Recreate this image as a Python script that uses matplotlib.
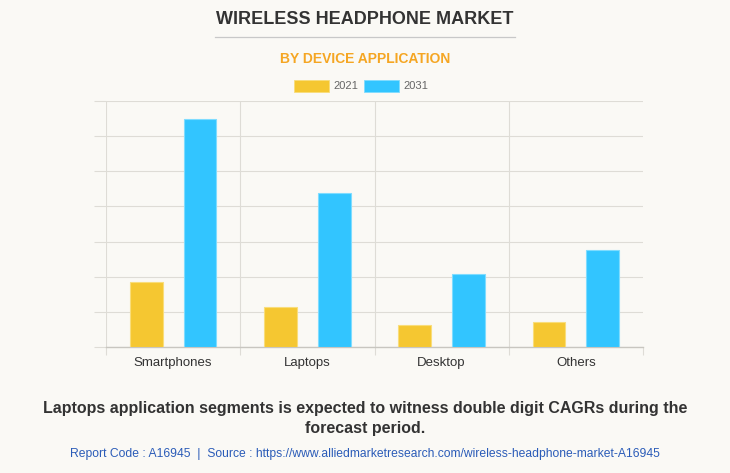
import numpy as np
import matplotlib.pyplot as plt
from matplotlib.patches import Rectangle
from matplotlib.lines import Line2D

plt.rcParams['font.family'] = ['Liberation Sans', 'DejaVu Sans']

# ── Data ─────────────────────────────────────────────────────────────────────
categories = ['Smartphones', 'Laptops', 'Desktop', 'Others']
series_labels = ['2021', '2031']
values_2021 = [1.86, 1.14, 0.62, 0.71]
values_2031 = [6.48, 4.38, 2.08, 2.76]

# ── Style ────────────────────────────────────────────────────────────────────
bg = '#faf9f5'
grid_c = '#dedcd6'
yellow = '#f5c731'
cyan = '#32c5ff'

fig = plt.figure(figsize=(7.3, 4.73), dpi=100, facecolor=bg)
W, H = 730, 473
ax = fig.add_axes([106 / W, (H - 347) / H, (643 - 106) / W, (347 - 101) / H])
ax.set_facecolor(bg)

x = np.arange(len(categories))
w = 0.245
off = 0.2
ax.bar(x - off, values_2021, w, color=yellow, edgecolor='#f9dd7a', linewidth=0.8, zorder=3)
ax.bar(x + off, values_2031, w, color=cyan, edgecolor='#7fdcff', linewidth=0.8, zorder=3)

ax.set_xlim(-0.5, len(categories) - 0.5)
ax.set_ylim(0, 7)
ax.set_yticks(np.arange(0, 8, 1))
ax.set_yticklabels([])
ax.tick_params(axis='y', length=9, color=grid_c, width=0.8)
ax.grid(axis='y', color=grid_c, linewidth=0.8, zorder=0)

ax.set_xticks(x)
ax.set_xticklabels(categories, fontsize=9.5, color='#333333')
ax.tick_params(axis='x', length=0, pad=7)
ax.set_xticks(np.arange(-0.5, len(categories), 1), minor=True)
ax.tick_params(axis='x', which='minor', length=6, color=grid_c, width=0.8)
for b in np.arange(-0.5, len(categories) - 0.5, 1):
    ax.axvline(b, color=grid_c, linewidth=0.8, zorder=0)

for s in ['top', 'right', 'left']:
    ax.spines[s].set_visible(False)
ax.spines['bottom'].set_color('#c8c6c0')
ax.spines['bottom'].set_linewidth(1.0)

# ── Titles ───────────────────────────────────────────────────────────────────
fig.text(0.5, 1 - 20 / H, 'WIRELESS HEADPHONE MARKET', ha='center', va='center',
         fontsize=13, fontweight='bold', color='#333333')
fig.add_artist(Line2D([215 / W, 515 / W], [1 - 37 / H, 1 - 37 / H],
                      color='#c8c8c8', linewidth=0.9))
fig.text(0.5, 1 - 59 / H, 'BY DEVICE APPLICATION', ha='center', va='center',
         fontsize=10, fontweight='bold', color='#f5a623')

# legend
for i, (lab, col, ec) in enumerate(zip(series_labels, [yellow, cyan], ['#f9dd7a', '#7fdcff'])):
    x0 = 294 + i * 70
    fig.add_artist(Rectangle((x0 / W, 1 - 92 / H), 35 / W, 12 / H,
                             facecolor=col, edgecolor=ec, linewidth=0.6,
                             transform=fig.transFigure))
    fig.text((x0 + 39) / W, 1 - 86 / H, lab, ha='left', va='center',
             fontsize=8, color='#666666')

# ── Footer ───────────────────────────────────────────────────────────────────
fig.text(0.5, 1 - 408 / H, 'Laptops application segments is expected to witness double digit CAGRs during the',
         ha='center', va='center', fontsize=11.5, fontweight='bold', color='#333333')
fig.text(0.5, 1 - 428 / H, 'forecast period.',
         ha='center', va='center', fontsize=11.5, fontweight='bold', color='#333333')
fig.text(0.5, 1 - 454 / H,
         'Report Code : A16945  |  Source : https://www.alliedmarketresearch.com/wireless-headphone-market-A16945',
         ha='center', va='center', fontsize=8.7, color='#2b5cb8')

fig.savefig('out.png', dpi=100, facecolor=bg)
